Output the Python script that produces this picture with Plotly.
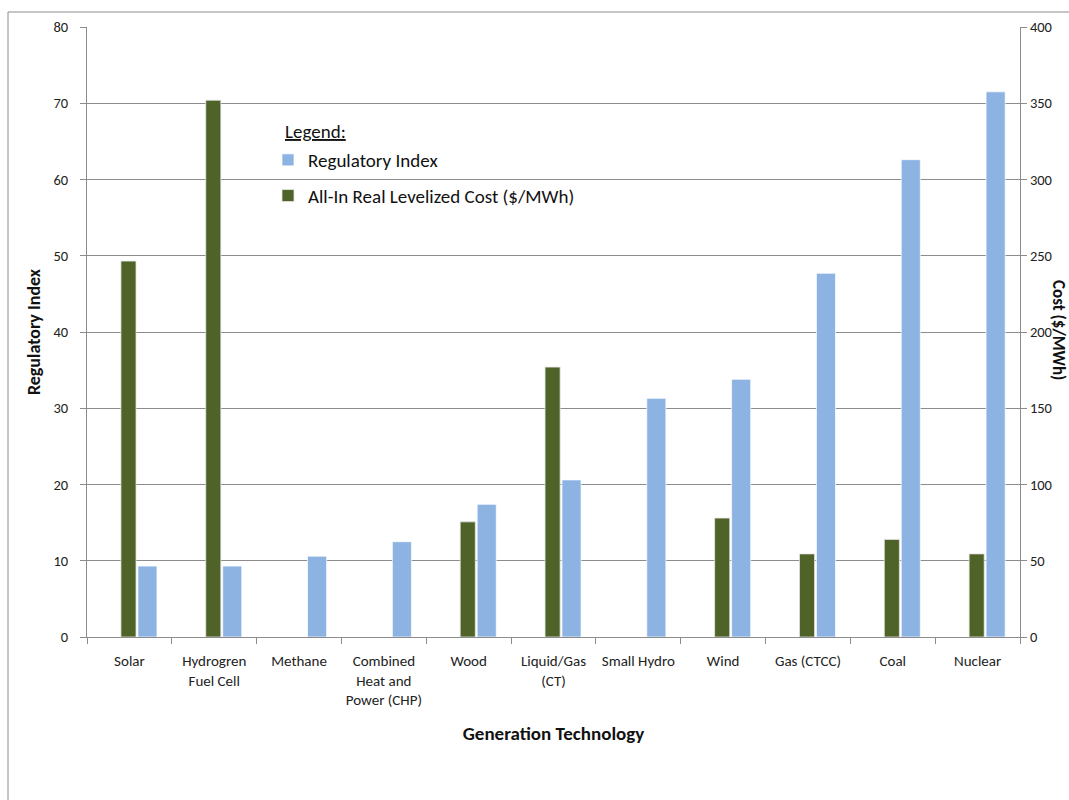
import plotly.graph_objects as go

categories = ["Solar", "Hydrogren<br>Fuel Cell", "Methane", "Combined<br>Heat and<br>Power (CHP)", "Wood",
              "Liquid/Gas<br>(CT)", "Small Hydro", "Wind", "Gas (CTCC)", "Coal", "Nuclear"]
regulatory_index = [9.3, 9.3, 10.6, 12.5, 17.4, 20.6, 31.3, 33.8, 47.7, 62.6, 71.5]
levelized_cost = [246.5, 352, None, None, 75.5, 177, None, 78, 54.5, 64, 54.5]

FONT = "Calibri, Carlito, Lato, sans-serif"
W, H = 1069, 800
L, R, T, B = 87, 49, 27, 163
pw, ph = W - L - R, H - T - B

def px_x(x):
    return (x - L) / pw

def px_y(y):
    return 1 - (y - T) / ph

fig = go.Figure()
fig.add_trace(go.Bar(
    x=categories, y=regulatory_index, name="Regulatory Index",
    marker=dict(color="#8DB3E2", line=dict(color="rgba(255,255,255,0.7)", width=1)),
    offset=0.1, width=0.225, yaxis="y", legendgroup="a",
))
fig.add_trace(go.Bar(
    x=categories, y=levelized_cost, name="All-In Real Levelized Cost ($/MWh)",
    marker=dict(color="#4F6228", line=dict(color="rgba(230,230,230,0.8)", width=1)),
    offset=-0.1, width=0.178, yaxis="y2", legendgroup="b",
))

fig.update_layout(
    width=W, height=H,
    margin=dict(l=L, r=R, t=T, b=B, autoexpand=False),
    paper_bgcolor="white", plot_bgcolor="white",
    font=dict(family=FONT, size=15, color="#222"),
    barmode="overlay",
    xaxis=dict(
        showline=True, linecolor="#8C8C8C", linewidth=1,
        ticks="outside", tickson="boundaries", ticklen=6, tickcolor="#8C8C8C",
        tickfont=dict(size=15, color="#222"), ticklabelstandoff=10, tickangle=0,
        title=dict(text="<b>Generation Technology</b>", font=dict(size=19, color="#111"), standoff=18),
        showgrid=False,
    ),
    yaxis=dict(
        range=[0, 80], dtick=10, showline=True, linecolor="#8C8C8C", linewidth=1,
        ticks="outside", ticklen=6, tickcolor="#8C8C8C",
        showgrid=True, gridcolor="#8C8C8C", gridwidth=1, zeroline=False,
        tickfont=dict(size=14.5, color="#222"), ticklabelstandoff=9,
        title=dict(text="<b>Regulatory Index</b>", font=dict(size=18, color="#111"), standoff=8),
    ),
    yaxis2=dict(
        range=[0, 400], dtick=50, overlaying="y", side="right",
        showline=True, linecolor="#8C8C8C", linewidth=1,
        ticks="outside", ticklen=6, tickcolor="#8C8C8C",
        showgrid=False, zeroline=False,
        tickfont=dict(size=14.5, color="#222"),
    ),
    showlegend=True,
    legend=dict(
        x=px_x(268), y=px_y(141), xanchor="left", yanchor="top",
        bgcolor="rgba(0,0,0,0)", font=dict(size=19, color="#111"),
        traceorder="grouped", tracegroupgap=8, itemwidth=30,
    ),
    shapes=[dict(
        type="rect", xref="paper", yref="paper",
        x0=px_x(8), x1=px_x(1090), y0=px_y(830), y1=px_y(12),
        line=dict(color="#8C8C8C", width=1), fillcolor="rgba(0,0,0,0)", layer="below",
    )],
    annotations=[
        dict(text="<u>Legend:</u>", xref="paper", yref="paper", x=px_x(283), y=px_y(131),
             xanchor="left", yanchor="middle", showarrow=False, font=dict(size=19, color="#111")),
        dict(text="<b>Cost ($/MWh)</b>", xref="paper", yref="paper", x=px_x(1059), y=px_y(330),
             xanchor="center", yanchor="middle", textangle=90, showarrow=False,
             font=dict(size=17, color="#111")),
    ],
)

fig.write_html("out.html")
